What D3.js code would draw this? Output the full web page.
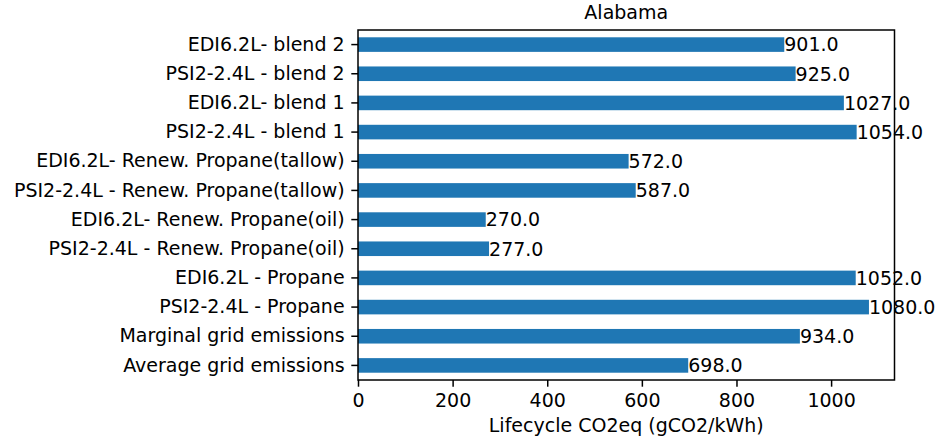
<!DOCTYPE html>
<html><head><meta charset="utf-8">
<script src="https://cdn.jsdelivr.net/npm/d3@7"></script>
<style>body{margin:0;background:#fff}svg{display:block;font-family:"DejaVu Sans",sans-serif}</style>
</head><body><svg id="c" width="948" height="438"></svg>
<script>
const title = "Alabama";
const xLabel = "Lifecycle CO2eq (gCO2/kWh)";
// bottom to top order
const categories = [
  "Average grid emissions",
  "Marginal grid emissions",
  "PSI2-2.4L - Propane",
  "EDI6.2L - Propane",
  "PSI2-2.4L - Renew. Propane(oil)",
  "EDI6.2L- Renew. Propane(oil)",
  "PSI2-2.4L - Renew. Propane(tallow)",
  "EDI6.2L- Renew. Propane(tallow)",
  "PSI2-2.4L - blend 1",
  "EDI6.2L- blend 1",
  "PSI2-2.4L - blend 2",
  "EDI6.2L- blend 2"
];
const values = [698, 934, 1080, 1052, 277, 270, 587, 572, 1054, 1027, 925, 901];
const xTicks = [0, 200, 400, 600, 800, 1000];

const L = 358, R = 894.5, T = 30, B = 380;
const fs = 19, tickLen = 6.7, pad = 6.7;
const svg = d3.select("#c");
const x = d3.scaleLinear().domain([0, d3.max(values) * 1.05]).range([L, R]);
const y = d3.scaleBand().domain(categories.slice().reverse()).range([T, B]).paddingInner(0.5).paddingOuter(0.25);

svg.selectAll("rect.bar").data(categories).enter().append("rect")
  .attr("class", "bar")
  .attr("x", x(0))
  .attr("y", d => y(d))
  .attr("width", (d, i) => x(values[i]) - x(0))
  .attr("height", y.bandwidth())
  .attr("fill", "#1f77b4");

svg.selectAll("text.val").data(categories).enter().append("text")
  .attr("x", (d, i) => x(values[i]))
  .attr("y", d => y(d) + y.bandwidth() / 2)
  .attr("dy", "0.36em")
  .attr("font-size", fs)
  .attr("fill", "#000")
  .text((d, i) => values[i].toFixed(1));

// frame
svg.append("rect").attr("x", L).attr("y", T).attr("width", R - L).attr("height", B - T)
  .attr("fill", "none").attr("stroke", "#000").attr("stroke-width", 1.5);

const xAxis = d3.axisBottom(x).tickValues(xTicks).tickSize(tickLen).tickPadding(pad).tickFormat(d3.format("d"));
const gx = svg.append("g").attr("transform", `translate(0,${B})`).call(xAxis);
gx.select(".domain").remove();
gx.selectAll("line").attr("stroke", "#000").attr("stroke-width", 1.5);
gx.selectAll("text").attr("font-size", fs).attr("font-family", "DejaVu Sans").attr("fill", "#000");

const yAxis = d3.axisLeft(y).tickSize(tickLen).tickPadding(pad);
const gy = svg.append("g").attr("transform", `translate(${L},0)`).call(yAxis);
gy.select(".domain").remove();
gy.selectAll("line").attr("stroke", "#000").attr("stroke-width", 1.5);
gy.selectAll("text").attr("font-size", fs).attr("font-family", "DejaVu Sans").attr("fill", "#000");

svg.append("text").attr("x", (L + R) / 2).attr("y", T - 11).attr("text-anchor", "middle")
  .attr("font-size", fs).attr("fill", "#000").text(title);
svg.append("text").attr("x", (L + R) / 2).attr("y", 432).attr("text-anchor", "middle")
  .attr("font-size", fs).attr("fill", "#000").text(xLabel);
</script></body></html>
